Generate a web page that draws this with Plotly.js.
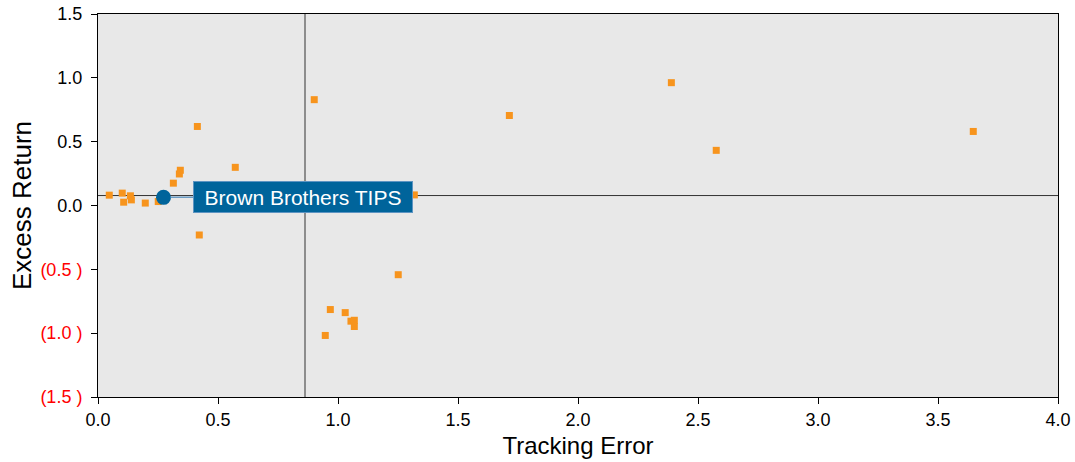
<!DOCTYPE html>
<html>
<head>
<meta charset="utf-8">
<script src="https://cdn.plot.ly/plotly-3.0.1.min.js"></script>
<style>html,body{margin:0;padding:0;background:#fff;}#chart{width:1075px;height:462px;}</style>
</head>
<body>
<div id="chart"></div>
<script>
// Peer funds: tracking error vs excess return
const peerTrackingError = [0.047, 0.101, 0.107, 0.135, 0.139, 0.197, 0.251, 0.314, 0.339, 0.343, 0.414, 0.422, 0.572, 0.858, 0.901, 1.318, 1.251, 0.968, 1.030, 1.054, 1.068, 1.068, 0.947, 1.714, 2.389, 2.576, 3.647];
const peerExcessReturn = [0.081, 0.097, 0.026, 0.076, 0.044, 0.019, 0.031, 0.175, 0.247, 0.276, 0.619, -0.231, 0.299, 0.165, 0.829, 0.083, -0.542, -0.815, -0.839, -0.906, -0.899, -0.948, -1.018, 0.705, 0.962, 0.432, 0.580];

const fundName = "Brown Brothers TIPS";
const fundTrackingError = [0.273];
const fundExcessReturn = [0.064];

const refTrackingError = 0.8625;
const refExcessReturn = 0.078;

const xTickVals = [0, 0.5, 1.0, 1.5, 2.0, 2.5, 3.0, 3.5, 4.0];
const xTickText = ["0.0", "0.5", "1.0", "1.5", "2.0", "2.5", "3.0", "3.5", "4.0"];
const yTickVals = [-1.5, -1.0, -0.5, 0, 0.5, 1.0, 1.5];
const yTickText = ["(1.5 )", "(1.0 )", "(0.5 )", "0.0", "0.5", "1.0", "1.5"];

const orange = "#F7941D";
const blue = "#00649B";
const fontFam = "Liberation Sans, Arial, sans-serif";

const yTickLabels = yTickVals.map((v, i) => v < 0 ? '<span style="color:#ff0000">' + yTickText[i] + '</span>' : yTickText[i]);

const traces = [
  {
    type: "scatter", mode: "markers",
    x: peerTrackingError, y: peerExcessReturn,
    marker: {symbol: "square", size: 7, color: orange},
    hoverinfo: "x+y", showlegend: false
  },
  {
    type: "scatter", mode: "markers",
    x: fundTrackingError, y: fundExcessReturn,
    marker: {symbol: "circle", size: 15, color: blue},
    name: fundName, showlegend: false
  }
];

const layout = {
  width: 1075, height: 462,
  margin: {l: 98, r: 17, t: 14, b: 65},
  paper_bgcolor: "#ffffff",
  plot_bgcolor: "#e8e8e8",
  font: {family: fontFam, color: "#000"},
  showlegend: false,
  xaxis: {
    range: [0, 4], tickvals: xTickVals, ticktext: xTickText,
    showgrid: false, zeroline: false,
    showline: true, linecolor: "#000", linewidth: 1, mirror: true,
    ticks: "outside", ticklen: 6, tickcolor: "#000",
    tickfont: {size: 18, family: fontFam, color: "#000"},
    title: {text: "Tracking Error", font: {size: 24, family: fontFam, color: "#000"}, standoff: 8}
  },
  yaxis: {
    range: [-1.5, 1.5], tickvals: yTickVals, ticktext: yTickLabels,
    showgrid: false, zeroline: false,
    showline: true, linecolor: "#000", linewidth: 1, mirror: true,
    ticks: "outside", ticklen: 6, tickcolor: "#000", ticklabelstandoff: 5,
    tickfont: {size: 18, family: fontFam, color: "#000"},
    title: {text: "Excess Return", font: {size: 26, family: fontFam, color: "#000"}, standoff: 1}
  },
  shapes: [
    {type: "line", xref: "x", yref: "paper", x0: refTrackingError, x1: refTrackingError, y0: 0, y1: 1,
     line: {color: "#333333", width: 1}, layer: "below"},
    {type: "line", xref: "paper", yref: "y", x0: 0, x1: 1, y0: refExcessReturn, y1: refExcessReturn,
     line: {color: "#333333", width: 1}, layer: "below"}
  ],
  annotations: [
    {
      x: fundTrackingError[0], y: fundExcessReturn[0], xref: "x", yref: "y",
      text: fundName, showarrow: true, arrowhead: 0, arrowwidth: 1.5, arrowcolor: "#6b9cc4",
      ax: 139, ay: 0, standoff: 7,
      bgcolor: blue, bordercolor: "#5d94c2", borderwidth: 1, borderpad: 3,
      width: 212, height: 24,
      font: {size: 21, family: fontFam, color: "#ffffff"}
    }
  ]
};

Plotly.newPlot("chart", traces, layout, {displayModeBar: false, staticPlot: true});
</script>
</body>
</html>
